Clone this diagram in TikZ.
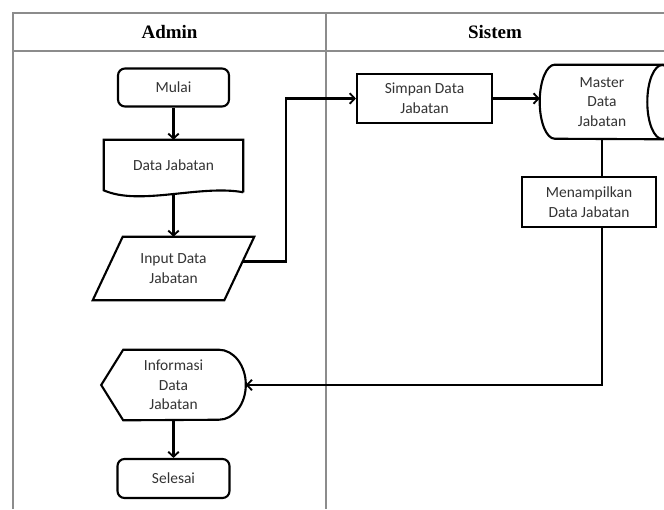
\documentclass[tikz,border=0pt]{standalone}
\usepackage{fontspec}
\setmainfont{Carlito}
\newfontfamily\headfont{Liberation Serif}
\usepackage{tikz}
\usetikzlibrary{arrows.meta}

\begin{document}
\begin{tikzpicture}[x=0.025cm, y=-0.025cm,
    lane/.style={draw=black!45, line width=0.9pt},
    head/.style={font=\headfont\fontsize{13.5}{16}\selectfont\bfseries},
    txt/.style={text=black!80, align=center, inner sep=0pt, font=\fontsize{11}{14}\selectfont},
    box/.style={txt, draw=black, line width=1.5pt},
    outline/.style={line width=1.5pt},
    flow/.style={-{Straight Barb[length=3.5pt, width=7.5pt, line width=1.3pt]}, line width=1.5pt}]
    \useasboundingbox (0,0) rectangle (664,509);

    \draw[lane] (13,509) -- (13,13) -- (664,13);
    \draw[lane] (13,51) -- (664,51);
    \draw[lane] (326,13) -- (326,509);
    \node[head] (admin) at (169.5,32) {Admin};
    \node[head] (sistem) at (495,32) {Sistem};

    \node[box, rounded corners=5pt, minimum width=2.775cm, minimum height=0.95cm] (mulai) at (173.5,87.5) {Mulai};

    \node[txt, minimum width=3.475cm, minimum height=1.25cm] (data) at (173.5,165) {Data Jabatan};
    \draw[outline] ([shift={(0,2)}]data.south east) -- (data.north east) -- (data.north west) -- (data.south west)
        .. controls ([shift={(36,16)}]data.south west) and ([shift={(-43,-6)}]data.south east) .. ([shift={(0,2)}]data.south east);
    \coordinate (datab) at ([shift={(0,4)}]data.south);

    \node[txt, minimum width=3.275cm, minimum height=1.575cm] (input) at (173.5,268.5) {Input Data\\Jabatan};
    \draw[outline] ([shift={(15,0)}]input.north west) -- ([shift={(15,0)}]input.north east)
        -- ([shift={(-15,0)}]input.south east) -- ([shift={(-15,0)}]input.south west) -- cycle;

    \node[box, minimum width=3.375cm, minimum height=1.225cm] (simpan) at (424.5,98.5) {Simpan Data\\Jabatan};

    \node[txt, minimum width=3.1cm, minimum height=1.85cm] (master) at (602,102) {Master\\Data\\Jabatan};
    \draw[outline] (master.north east) -- ([shift={(15,0)}]master.north west)
        arc[start angle=90, end angle=270, x radius=0.375cm, y radius=0.925cm] -- (master.south east);
    \draw[outline] ([shift={(-2,0)}]master.east) ellipse[x radius=0.375cm, y radius=0.925cm];

    \node[box, minimum width=3.35cm, minimum height=1.25cm] (tampil) at (589,202) {Menampilkan\\Data Jabatan};

    \node[txt, minimum width=3.6cm, minimum height=1.75cm] (info) at (173.5,385) {Informasi\\Data\\Jabatan};
    \draw[outline] (info.west) -- ([shift={(22,0)}]info.north west) -- ([shift={(-27,0)}]info.north east)
        arc[start angle=90, end angle=-90, x radius=0.675cm, y radius=0.875cm] -- ([shift={(22,0)}]info.south west) -- cycle;

    \node[box, rounded corners=5pt, minimum width=2.8cm, minimum height=0.975cm] (selesai) at (173.5,478.5) {Selesai};

    \draw[flow] (mulai) -- (data);
    \draw[flow] (datab) -- (input.north);
    \draw[flow] ([shift={(3,-7)}]input.east) -- ++(44,0) |- (simpan.west);
    \draw[flow] (simpan.east) -- (simpan.east -| master.west);
    \draw[outline] (master.south) -- (master.south |- tampil.north);
    \draw[flow] (master.south |- tampil.south) |- (info.east);
    \draw[flow] (info) -- (selesai);
\end{tikzpicture}
\end{document}
